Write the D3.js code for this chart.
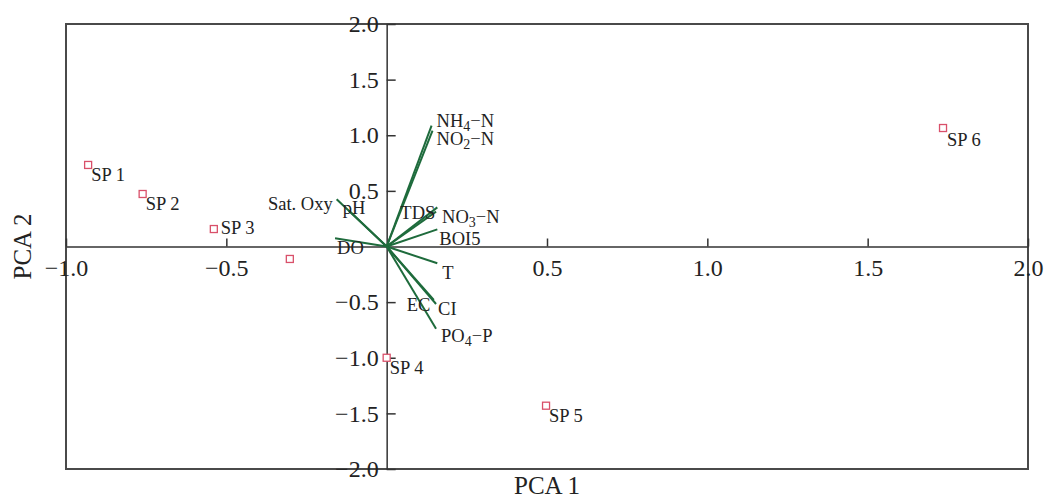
<!DOCTYPE html>
<html>
<head>
<meta charset="utf-8">
<script src="https://cdn.jsdelivr.net/npm/d3@7"></script>
<style>
  body { margin: 0; background: #fff; }
  text { font-family: "Liberation Serif", "DejaVu Serif", serif; fill: #222; }
</style>
</head>
<body>
<svg></svg>
<script>
// sample scores
const sites = ["SP 1", "SP 2", "SP 3", "", "SP 4", "SP 5", "SP 6"];
const siteX = [-0.931, -0.761, -0.539, -0.302, 0.0, 0.497, 1.735];
const siteY = [0.733, 0.472, 0.157, -0.112, -1.0, -1.431, 1.065];

// variable loadings
const vars = ["NH4", "NO2", "Sat. Oxy", "pH", "TDS", "NO3", "BOI5", "DO", "T", "EC", "CI", "PO4"];
const varX = [0.140, 0.143, -0.156, -0.118, 0.158, 0.154, 0.158, -0.161, 0.158, 0.147, 0.154, 0.154];
const varY = [1.086, 1.041, 0.424, 0.323, 0.352, 0.313, 0.154, 0.074, -0.151, -0.481, -0.517, -0.739];

const xTicks = [-1.0, -0.5, 0.5, 1.0, 1.5, 2.0];
const yTicks = [2.0, 1.5, 1.0, 0.5, -0.5, -1.0, -1.5, -2.0];

const margin = { top: 24, right: 17, bottom: 31, left: 66 },
  width = 1045 - margin.left - margin.right,
  height = 500 - margin.top - margin.bottom;

const svg = d3
  .select("svg")
  .attr("width", 1045)
  .attr("height", 500)
  .append("g")
  .attr("transform", "translate(" + margin.left + "," + margin.top + ")");

const x = d3.scaleLinear().domain([-1, 2]).range([0, width]);
const y = d3.scaleLinear().domain([-2, 2]).range([height, 0]);

// frame
svg
  .append("rect")
  .attr("width", width)
  .attr("height", height)
  .attr("fill", "none")
  .attr("stroke", "#4a4a4a")
  .attr("stroke-width", 2);

const fmt = d3.format(".1f");

const xAxis = d3.axisBottom(x).tickValues(xTicks).tickFormat(fmt)
  .tickSizeInner(-8).tickSizeOuter(0).tickPadding(12);
const yAxis = d3.axisLeft(y).tickValues(yTicks).tickFormat(fmt)
  .tickSizeInner(-9).tickSizeOuter(0).tickPadding(8);

svg.append("g").attr("class", "x axis")
  .attr("transform", "translate(0," + y(0) + ")")
  .call(xAxis);
svg.append("g").attr("class", "y axis")
  .attr("transform", "translate(" + x(0) + ",0)")
  .call(yAxis);

svg.selectAll(".axis path, .axis line").attr("stroke", "#333").attr("stroke-width", 1.5);
svg.selectAll(".axis text")
  .style("font-size", "24px")
  .style("font-family", '"Liberation Serif", serif')
  .attr("fill", "#222");

// variable vectors
const labelNudge = {
  "NH4": [5, 1, "start"], "NO2": [4, 14, "start"], "Sat. Oxy": [-4, 11, "end"],
  "pH": [-6, 3, "start"], "TDS": [-37, 12, "start"], "NO3": [6, 11, "start"],
  "BOI5": [2, 16, "start"], "DO": [2, 16, "start"], "T": [5, 16, "start"],
  "EC": [-27, 11, "start"], "CI": [2, 11, "start"], "PO4": [5, 13, "start"]
};
const subs = { "NH4": ["NH", "4", "\u2212N"], "NO2": ["NO", "2", "\u2212N"],
  "NO3": ["NO", "3", "\u2212N"], "PO4": ["PO", "4", "\u2212P"] };

svg.selectAll(".vec")
  .data(vars)
  .enter()
  .append("line")
  .attr("class", "vec")
  .attr("x1", x(0))
  .attr("y1", y(0))
  .attr("x2", function (d, i) { return x(varX[i]); })
  .attr("y2", function (d, i) { return y(varY[i]); })
  .attr("stroke", "#1e6b3c")
  .attr("stroke-width", 2);

const vlab = svg.selectAll(".vlab")
  .data(vars)
  .enter()
  .append("text")
  .attr("class", "vlab")
  .attr("x", function (d, i) { return x(varX[i]) + labelNudge[d][0]; })
  .attr("y", function (d, i) { return y(varY[i]) + labelNudge[d][1]; })
  .attr("text-anchor", function (d) { return labelNudge[d][2]; })
  .style("font-size", "18.5px");

vlab.each(function (d) {
  const t = d3.select(this);
  if (subs[d]) {
    t.append("tspan").text(subs[d][0]);
    t.append("tspan").attr("dy", 4).style("font-size", "14px").text(subs[d][1]);
    t.append("tspan").attr("dy", -4).text(subs[d][2]);
  } else {
    t.text(d);
  }
});

// sample points
svg.selectAll(".site")
  .data(sites)
  .enter()
  .append("rect")
  .attr("class", "site")
  .attr("x", function (d, i) { return x(siteX[i]) - 3.5; })
  .attr("y", function (d, i) { return y(siteY[i]) - 3.5; })
  .attr("width", 7)
  .attr("height", 7)
  .attr("fill", "#fff")
  .attr("stroke", "#d9506a")
  .attr("stroke-width", 1.3);

// SP 3 label sits beside its point, the rest below-right
const siteNudge = { "SP 3": [7, 5], "SP 6": [4, 18] };

svg.selectAll(".slab")
  .data(sites)
  .enter()
  .append("text")
  .attr("class", "slab")
  .attr("x", function (d, i) { return x(siteX[i]) + (siteNudge[d] ? siteNudge[d][0] : 3); })
  .attr("y", function (d, i) { return y(siteY[i]) + (siteNudge[d] ? siteNudge[d][1] : 16); })
  .style("font-size", "18.5px")
  .text(function (d) { return d; });

// axis titles
svg.append("text")
  .attr("text-anchor", "middle")
  .attr("x", width / 2)
  .attr("y", height + 25)
  .style("font-size", "25px")
  .text("PCA 1");

svg.append("text")
  .attr("text-anchor", "middle")
  .attr("transform", "translate(" + (-margin.left + 31) + "," + height / 2 + ") rotate(-90)")
  .style("font-size", "25px")
  .text("PCA 2");
</script>
</body>
</html>
